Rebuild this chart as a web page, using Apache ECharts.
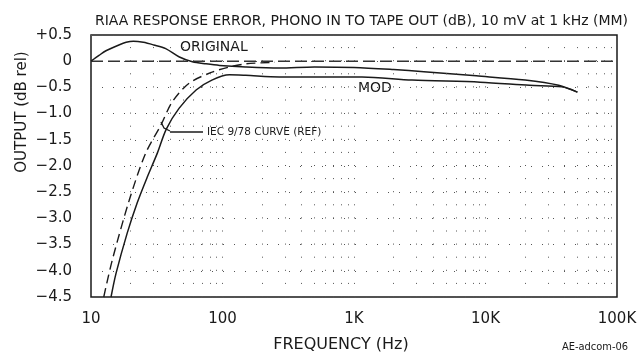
<!DOCTYPE html>
<html>
<head>
<meta charset="utf-8">
<script src="https://cdn.jsdelivr.net/npm/echarts@6/dist/echarts.min.js"></script>
<style>
  html, body { margin: 0; padding: 0; background: #fff; }
  /* size must be set */
  #chart { width: 642px; height: 355px; }
</style>
</head>
<body>
<div id="chart"></div>
<script>
// ORIGINAL curve (solid, upper)
var origFreq = [10, 11.5, 13, 16.3, 18.5, 21, 25, 30, 37, 47, 59, 75, 95, 150, 270, 500, 1000, 2000, 3400, 8500, 20000, 36000, 50000];
var origVal = [0.0, 0.11, 0.2, 0.31, 0.36, 0.38, 0.36, 0.31, 0.24, 0.08, -0.01, -0.05, -0.08, -0.11, -0.13, -0.11, -0.12, -0.16, -0.2, -0.28, -0.36, -0.46, -0.59];

// MOD curve (solid, lower)
var modFreq = [14.2, 15.5, 18.8, 22.4, 26.7, 32, 37.3, 46.7, 63, 83, 113, 150, 270, 500, 1150, 2760, 9100, 21600, 38000, 50000];
var modVal = [-4.5, -4.05, -3.29, -2.71, -2.22, -1.75, -1.3, -0.9, -0.55, -0.36, -0.26, -0.27, -0.3, -0.3, -0.3, -0.36, -0.4, -0.46, -0.49, -0.59];

// IEC 9/78 reference curve (dashed)
var iecFreq = [12.5, 14.5, 19.5, 26, 34, 41.4, 55.7, 83, 113, 152, 250];
var iecVal = [-4.5, -3.8, -2.66, -1.76, -1.22, -0.78, -0.42, -0.21, -0.11, -0.05, -0.02];

// 0 dB reference line
var refFreq = [10, 100000];
var refVal = [0, 0];

// tick labels / dotted grid columns
var xTickLabels = { 10: '10', 100: '100', 1000: '1K', 10000: '10K', 100000: '100K' };
var gridFreqs = [20, 30, 40, 50, 60, 70, 80, 90, 100,
                 200, 300, 400, 500, 600, 700, 800, 900, 1000,
                 2000, 3000, 4000, 5000, 6000, 7000, 8000, 9000, 10000,
                 20000, 30000, 40000, 50000, 60000, 70000, 80000, 90000];

function pairs(xs, ys) {
  return xs.map(function (x, i) { return [x, ys[i]]; });
}

var FONT = 'DejaVu Sans';
var INK = '#1a1a1a';

var chart = echarts.init(document.getElementById('chart'));

var option = {
  backgroundColor: '#fff',
  animation: false,
  title: {
    text: 'RIAA RESPONSE ERROR, PHONO IN TO TAPE OUT (dB), 10 mV at 1 kHz (MM)',
    left: 90,
    top: 9,
    textStyle: { fontFamily: FONT, fontSize: 14, fontWeight: 'normal', color: INK }
  },
  grid: {
    left: 91, right: 25, top: 35, bottom: 58,
    show: true, borderColor: INK, borderWidth: 1.5, backgroundColor: 'transparent'
  },
  xAxis: {
    type: 'log',
    logBase: 10,
    min: 10,
    max: 100000,
    axisLine: { show: false },
    axisTick: { show: false },
    splitLine: { show: false },
    axisLabel: {
      margin: 15,
      fontFamily: FONT, fontSize: 15, color: INK,
      formatter: function (v) { return xTickLabels[v] || ''; }
    }
  },
  yAxis: {
    type: 'value',
    min: -4.5,
    max: 0.5,
    interval: 0.5,
    axisLine: { show: false },
    axisTick: { show: false },
    splitLine: { show: true, lineStyle: { color: '#555', width: 1, type: [1, 10] } },
    axisLabel: {
      margin: 19,
      fontFamily: FONT, fontSize: 15, color: INK,
      formatter: function (v) {
        if (Math.abs(v) < 1e-9) return '0';
        return (v > 0 ? '+' : '\u2212') + Math.abs(v).toFixed(1);
      }
    }
  },
  series: [
    {
      name: 'grid',
      type: 'line',
      data: [],
      silent: true,
      markLine: {
        silent: true,
        symbol: ['none', 'none'],
        label: { show: false },
        lineStyle: { color: '#555', width: 1, type: [1, 12.1] },
        data: gridFreqs.map(function (f) { return { xAxis: f }; })
      }
    },
    {
      name: '0 dB',
      type: 'line',
      data: pairs(refFreq, refVal),
      symbol: 'none',
      lineStyle: { color: '#333', width: 1.5, type: [12, 5] }
    },
    {
      name: 'IEC 9/78',
      type: 'line',
      data: pairs(iecFreq, iecVal),
      symbol: 'none',
      smooth: 0.3,
      lineStyle: { color: INK, width: 1.4, type: [9, 5] }
    },
    {
      name: 'ORIGINAL',
      type: 'line',
      data: pairs(origFreq, origVal),
      symbol: 'none',
      smooth: 0.3,
      lineStyle: { color: INK, width: 1.5 }
    },
    {
      name: 'MOD',
      type: 'line',
      data: pairs(modFreq, modVal),
      symbol: 'none',
      smooth: 0.3,
      lineStyle: { color: INK, width: 1.5 }
    }
  ],
  graphic: [
    {
      type: 'text', x: 22, y: 112, rotation: Math.PI / 2,
      style: { text: 'OUTPUT (dB rel)', fontFamily: FONT, fontSize: 15, fill: INK, align: 'center', verticalAlign: 'middle' }
    },
    {
      type: 'text', x: 341, y: 345,
      style: { text: 'FREQUENCY (Hz)', fontFamily: FONT, fontSize: 16, fill: INK, align: 'center', verticalAlign: 'middle' }
    },
    {
      type: 'text', x: 180, y: 47,
      style: { text: 'ORIGINAL', fontFamily: FONT, fontSize: 14, fill: INK, align: 'left', verticalAlign: 'middle' }
    },
    {
      type: 'text', x: 358, y: 88,
      style: { text: 'MOD', fontFamily: FONT, fontSize: 14, fill: INK, align: 'left', verticalAlign: 'middle' }
    },
    {
      type: 'text', x: 207, y: 132,
      style: { text: 'IEC 9/78 CURVE (REF)', fontFamily: FONT, fontSize: 10.5, fill: INK, align: 'left', verticalAlign: 'middle' }
    },
    {
      type: 'polyline',
      shape: { points: [[161, 122], [164, 128], [170, 131]] },
      style: { stroke: INK, lineWidth: 1.3, fill: null }
    },
    {
      type: 'line',
      shape: { x1: 170, y1: 132, x2: 203, y2: 132 },
      style: { stroke: INK, lineWidth: 1.3 }
    },
    {
      type: 'text', x: 595, y: 347,
      style: { text: 'AE-adcom-06', fontFamily: "'DejaVu Sans Condensed', 'Liberation Sans', sans-serif", fontSize: 11, fill: INK, align: 'center', verticalAlign: 'middle' }
    }
  ]
};

chart.setOption(option);
</script>
</body>
</html>
